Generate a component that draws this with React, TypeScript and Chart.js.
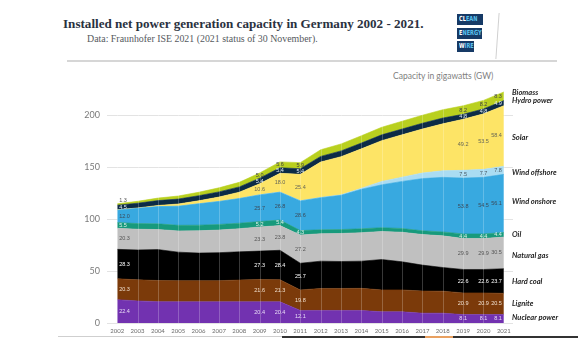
import React, { useEffect, useRef } from "react";
import { Chart, registerables } from "chart.js";

Chart.register(...registerables);

// ---------- DATA ----------
const YEARS = [2002, 2003, 2004, 2005, 2006, 2007, 2008, 2009, 2010, 2011, 2012, 2013, 2014, 2015, 2016, 2017, 2018, 2019, 2020, 2021];

const NUCLEAR = [22.4, 21.3, 20.6, 20.4, 20.4, 20.4, 20.4, 20.4, 20.4, 12.1, 12.1, 12.1, 12.1, 10.8, 10.8, 9.5, 9.5, 8.1, 8.1, 8.1];
const LIGNITE = [20.3, 20.3, 20.4, 20.4, 20.4, 20.4, 21.0, 21.6, 21.3, 19.8, 21.2, 21.2, 21.3, 21.1, 21.1, 21.3, 21.2, 20.9, 20.9, 20.5];
const HARD_COAL = [28.3, 28.8, 29.8, 27.5, 26.6, 27.0, 27.2, 27.3, 28.4, 25.7, 26.3, 26.0, 26.2, 29.3, 27.1, 25.0, 22.8, 22.6, 22.6, 23.7];
const NATURAL_GAS = [20.3, 20.0, 19.3, 20.5, 21.5, 21.8, 22.3, 23.3, 23.8, 27.2, 26.5, 27.0, 27.5, 27.0, 28.5, 29.5, 30.5, 29.9, 29.9, 30.5];
const OIL = [5.5, 5.5, 5.5, 5.4, 5.4, 5.4, 5.3, 5.2, 5.4, 4.3, 3.8, 3.8, 3.7, 3.7, 3.6, 3.6, 3.8, 4.4, 4.4, 4.4];
const WIND_ONSHORE = [12.0, 14.6, 16.6, 18.4, 20.6, 22.2, 23.8, 25.7, 26.8, 28.6, 30.9, 33.0, 38.1, 41.3, 45.4, 50.3, 52.6, 53.8, 54.5, 56.1];
const WIND_OFFSHORE = [0, 0, 0, 0, 0, 0, 0, 0.1, 0.2, 0.2, 0.3, 0.5, 1.0, 3.3, 4.1, 5.4, 6.4, 7.5, 7.7, 7.8];
const SOLAR = [0.3, 0.4, 1.1, 2.1, 2.9, 4.2, 6.1, 10.6, 18.0, 25.4, 34.1, 36.7, 38.0, 39.3, 40.8, 42.4, 45.2, 49.2, 53.5, 58.4];
const HYDRO = [4.5, 4.6, 4.7, 4.8, 4.9, 5.0, 5.1, 5.4, 5.4, 5.4, 5.4, 5.6, 5.6, 5.6, 5.6, 5.6, 5.6, 4.8, 4.8, 4.9];
const BIOMASS = [1.3, 1.8, 2.4, 2.9, 3.3, 3.9, 4.4, 5.0, 5.6, 5.9, 6.4, 6.7, 7.0, 7.3, 7.5, 7.7, 8.0, 8.2, 8.2, 8.3];

const SERIES_NAMES = ["Nuclear power", "Lignite", "Hard coal", "Natural gas", "Oil", "Wind onshore", "Wind offshore", "Solar", "Hydro power", "Biomass"];
const SERIES_VALUES = [NUCLEAR, LIGNITE, HARD_COAL, NATURAL_GAS, OIL, WIND_ONSHORE, WIND_OFFSHORE, SOLAR, HYDRO, BIOMASS];
const SERIES_COLORS = ["#7232b0", "#7b3a0a", "#000000", "#c0c0c0", "#179a7c", "#38a9e0", "#aadcf2", "#fde466", "#0c2b46", "#b9d01f"];
const LABEL_COLORS = ["#e8dcf5", "#f0e0d0", "#ffffff", "#555555", "#e0f0ea", "#3b4a5a", "#4a5a66", "#666655", "#e6eef5", "#444444"];

const LABELED_YEARS = [2002, 2009, 2010, 2011, 2019, 2020, 2021];
const Y_TICKS = [0, 50, 100, 150, 200];

const TITLE = "Installed net power generation capacity in Germany 2002 - 2021.";
const SUBTITLE = "Data: Fraunhofer ISE 2021 (2021 status of 30 November).";
const UNIT_LABEL = "Capacity in gigawatts (GW)";

// ---------- PLUGINS ----------
const separatorPlugin = {
  id: "yearSeparators",
  afterDatasetsDraw(chart: any) {
    const { ctx, chartArea } = chart;
    const xs = chart.scales.x;
    ctx.save();
    ctx.strokeStyle = "rgba(255,255,255,0.22)";
    ctx.lineWidth = 1;
    YEARS.forEach((yr) => {
      const x = Math.round(xs.getPixelForValue(yr)) + 0.5;
      ctx.beginPath();
      ctx.moveTo(x, chartArea.top);
      ctx.lineTo(x, chartArea.bottom);
      ctx.stroke();
    });
    ctx.restore();
  },
};

const bandLabelPlugin = {
  id: "bandLabels",
  afterDatasetsDraw(chart: any) {
    const { ctx } = chart;
    const ys = chart.scales.y;
    const n = YEARS.length;
    ctx.save();
    ctx.font = '5.5px "Liberation Sans", Arial, sans-serif';
    ctx.textBaseline = "middle";
    SERIES_VALUES.forEach((vals, di) => {
      const meta = chart.getDatasetMeta(di);
      LABELED_YEARS.forEach((yr) => {
        const i = YEARS.indexOf(yr);
        const v = vals[i];
        if (v < 0.9) return;
        const pt = meta.data[i];
        const top = pt.y;
        const bottom = di === 0 ? ys.getPixelForValue(0) : chart.getDatasetMeta(di - 1).data[i].y;
        let cy = (top + bottom) / 2;
        if (v < 2) cy = top - 3.5;
        let x = pt.x;
        if (i === 0) {
          ctx.textAlign = "left";
          x += 2;
        } else if (i === n - 1) {
          ctx.textAlign = "right";
          x -= 2;
        } else {
          ctx.textAlign = "center";
        }
        ctx.fillStyle = v < 2 ? "#555555" : LABEL_COLORS[di];
        ctx.fillText(v.toFixed(1), x, cy);
      });
    });
    ctx.restore();
  },
};

const LEGEND_Y = [318, 304, 282, 256, 235, 202, 173, 138, 101, 93];

const sideLegendPlugin = {
  id: "sideLegend",
  afterDraw(chart: any) {
    const { ctx, chartArea } = chart;
    ctx.save();
    ctx.font = 'italic bold 7.5px Lato, "Liberation Sans", sans-serif';
    ctx.textBaseline = "middle";
    ctx.textAlign = "left";
    ctx.fillStyle = "#1e1e1e";
    SERIES_NAMES.forEach((name, i) => {
      ctx.fillText(name, chartArea.right - 1, LEGEND_Y[i]);
    });
    ctx.restore();
  },
};

// ---------- COMPONENTS ----------
function Logo() {
  const box = (white: string, blue: string, width: number, top: number) => (
    <div
      style={{
        position: "absolute",
        left: 457,
        top,
        width,
        height: 11,
        background: "#163a66",
        boxSizing: "border-box",
        overflow: "hidden",
      }}
    >
      <div
        style={{
          position: "absolute",
          left: 1.5,
          top: 0,
          color: "#5bc3ef",
          font: 'bold 7px "DejaVu Sans", "Liberation Sans", sans-serif',
          lineHeight: "11px",
          whiteSpace: "nowrap",
          transform: "scaleX(0.72)",
          transformOrigin: "left center",
        }}
      >
        <span style={{ color: "#ffffff" }}>{white}</span>
        {blue}
      </div>
    </div>
  );
  return (
    <>
      {box("CL", "EAN", 26, 14)}
      {box("E", "NERGY", 25, 27.5)}
      {box("W", "IRE", 17, 41)}
    </>
  );
}

export default function App() {
  const canvasRef = useRef<HTMLCanvasElement | null>(null);

  useEffect(() => {
    if (!canvasRef.current) return;
    const datasets = SERIES_VALUES.map((vals, i) => ({
      label: SERIES_NAMES[i],
      data: vals,
      backgroundColor: SERIES_COLORS[i],
      borderColor: SERIES_COLORS[i],
      borderWidth: 0.6,
      pointRadius: 0,
      tension: 0,
      fill: i === 0 ? "origin" : "-1",
    }));
    const chart = new Chart(canvasRef.current, {
      type: "line",
      data: { labels: YEARS, datasets },
      options: {
        responsive: false,
        animation: false,
        devicePixelRatio: 1,
        layout: { padding: { left: 67, right: 75, top: 89.6, bottom: 14 } },
        plugins: { legend: { display: false }, tooltip: { enabled: false }, title: { display: false } },
        elements: { line: { tension: 0 } },
        scales: {
          x: {
            type: "linear",
            min: 2001.5,
            max: 2021.45,
            grid: { display: false, drawTicks: false },
            border: { display: false },
            afterFit: (s: any) => {
              s.height = 16;
            },
            afterBuildTicks: (s: any) => {
              s.ticks = YEARS.map((v) => ({ value: v }));
            },
            ticks: {
              autoSkip: false,
              maxRotation: 0,
              minRotation: 0,
              padding: 4,
              color: "#6b6b6b",
              font: { family: 'Lato, "Liberation Sans", sans-serif', size: 6 },
              callback: (v: any) => String(v),
            },
          },
          y: {
            stacked: true,
            min: 0,
            max: 225,
            afterFit: (s: any) => {
              s.width = 40;
            },
            afterBuildTicks: (s: any) => {
              s.ticks = Y_TICKS.map((v) => ({ value: v }));
            },
            grid: { color: "#e3e3e3", drawTicks: false, lineWidth: 1 },
            border: { display: false },
            ticks: {
              padding: 7,
              color: "#7a7a7a",
              font: { family: 'Lato, "Liberation Sans", sans-serif', size: 9 },
            },
          },
        },
      },
      plugins: [separatorPlugin, bandLabelPlugin, sideLegendPlugin],
    } as any);
    return () => chart.destroy();
  }, []);

  return (
    <div style={{ position: "fixed", left: 0, top: 0, width: 588, height: 353, background: "#ffffff", overflow: "hidden" }}>
      <div
        style={{
          position: "absolute",
          left: 63,
          top: 16,
          whiteSpace: "nowrap",
          font: 'bold 13.1px "Liberation Serif", "DejaVu Serif", serif',
          color: "#2a3140",
        }}
      >
        {TITLE}
      </div>
      <div
        style={{
          position: "absolute",
          left: 87,
          top: 33,
          whiteSpace: "nowrap",
          font: '9.9px "Liberation Serif", "DejaVu Serif", serif',
          color: "#555a60",
        }}
      >
        {SUBTITLE}
      </div>
      <Logo />
      <div style={{ position: "absolute", left: 497, top: 13, width: 1, height: 46, background: "#d0d0d0", transform: "rotate(4deg)" }} />
      <div style={{ position: "absolute", left: 67, top: 60, width: 490, height: 2, background: "#d6d6d6" }} />
      <div
        style={{
          position: "absolute",
          left: 393,
          top: 71,
          whiteSpace: "nowrap",
          font: '8.5px Lato, "Liberation Sans", sans-serif',
          color: "#808080",
        }}
      >
        {UNIT_LABEL}
      </div>
      <canvas ref={canvasRef} width={588} height={353} style={{ position: "absolute", left: 0, top: 0 }} />
      <div style={{ position: "absolute", left: 58, top: 336, width: 224, height: 1, background: "#cfcfcf" }} />
      <div style={{ position: "absolute", left: 282, top: 336, width: 296, height: 1.5, background: "#333333" }} />
      <div style={{ position: "absolute", left: 425, top: 336, width: 28, height: 1.5, background: "#e8a060" }} />
    </div>
  );
}
